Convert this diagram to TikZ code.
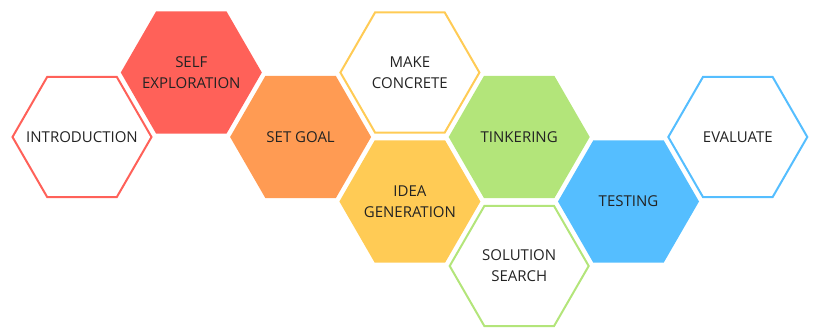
\documentclass[tikz,border=0pt]{standalone}
\usepackage{fontspec}
\setmainfont{Open Sans}
\usepackage{xcolor}
\usepackage{tikz}
\usetikzlibrary{shapes.geometric}
\definecolor{C0}{RGB}{255, 97, 89}
\definecolor{C1}{RGB}{255,155, 83}
\definecolor{C2}{RGB}{255,203, 85}
\definecolor{C3}{RGB}{179,229,122}
\definecolor{C4}{RGB}{ 85,190,255}
\definecolor{txt}{RGB}{ 35, 35, 35}

\tikzset{
    hex/.style={regular polygon, regular polygon sides=6, inner sep=0pt},
    hexfill/.style={hex, minimum size=141pt, fill=#1},
    hexline/.style={hex, minimum size=139pt, draw=#1, line width=2pt},
    hextext/.style={align=center, text=txt, inner sep=0pt,
        font=\fontsize{15}{21}\selectfont}
}

\begin{document}
\begin{tikzpicture}[x=1pt, y=-1pt]
    \useasboundingbox (0,0) rectangle (817,327);

    %% --- honeycomb centres: columns 109.3 apart, rows 64.5 apart ---
    \coordinate (c1) at (82.0, 137.0);
    \coordinate (c2) at (191.3, 72.5);
    \coordinate (c3) at (300.6, 137.0);
    \coordinate (c4) at (409.9, 72.5);
    \coordinate (c5) at (409.9, 201.5);
    \coordinate (c6) at (519.2, 137.0);
    \coordinate (c7) at (519.2, 266.0);
    \coordinate (c8) at (628.5, 201.5);
    \coordinate (c9) at (737.8, 137.0);

    %% red pair
    \node[hexline=C0] (intro)   at (c1) {};
    \node[hexfill=C0] (selfexp) at (c2) {};

    %% orange
    \node[hexfill=C1] (goal) at (c3) {};

    %% yellow pair
    \node[hexline=C2] (concrete) at (c4) {};
    \node[hexfill=C2] (ideas)    at (c5) {};

    %% green pair
    \node[hexfill=C3] (tinker) at (c6) {};
    \node[hexline=C3] (search) at (c7) {};

    %% blue pair
    \node[hexfill=C4] (testing)  at (c8) {};
    \node[hexline=C4] (evaluate) at (c9) {};

    %% labels, centred in each cell
    \node[hextext] (introT)    at (intro)    {INTRODUCTION};
    \node[hextext] (selfexpT)  at (selfexp)  {SELF\\EXPLORATION};
    \node[hextext] (goalT)     at (goal)     {SET GOAL};
    \node[hextext] (concreteT) at (concrete) {MAKE\\CONCRETE};
    \node[hextext] (ideasT)    at (ideas)    {IDEA\\GENERATION};
    \node[hextext] (tinkerT)   at (tinker)   {TINKERING};
    \node[hextext] (searchT)   at (search)   {SOLUTION\\SEARCH};
    \node[hextext] (testingT)  at (testing)  {TESTING};
    \node[hextext] (evaluateT) at (evaluate) {EVALUATE};

\end{tikzpicture}
\end{document}
